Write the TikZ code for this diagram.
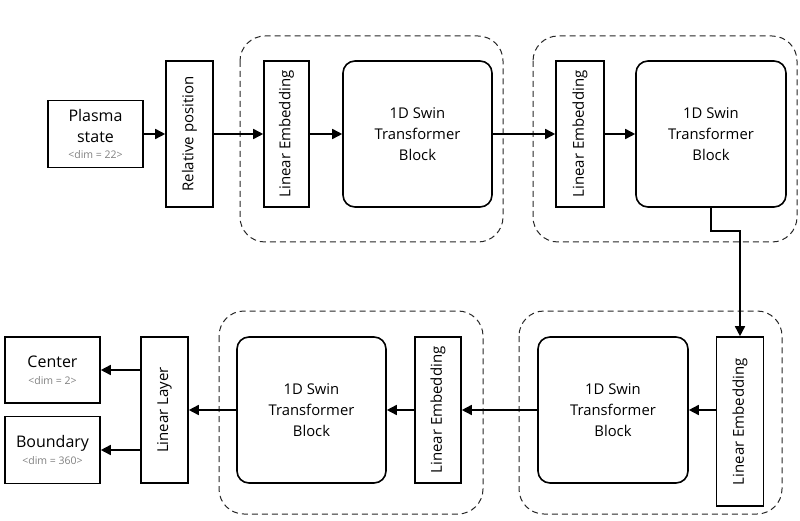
\documentclass[tikz,border=0pt]{standalone}
\usepackage{fontspec}
\setmainfont{Open Sans}
\usetikzlibrary{arrows.meta}

\begin{document}
\begin{tikzpicture}[x=1pt, y=-1pt]
    \tikzstyle{nod}  = [draw, line width=1.6pt, inner sep=0pt, align=center]
    \tikzstyle{bloc} = [nod, rounded corners=12pt, minimum height=146pt, font=\fontsize{14.8}{21}\selectfont]
    \tikzstyle{emb}  = [nod, minimum width=46pt, minimum height=146pt]
    \tikzstyle{ies}  = [nod, minimum width=95pt, font=\fontsize{16}{21}\selectfont]
    \tikzstyle{vert} = [rotate=90, font=\fontsize{15}{16}\selectfont]
    \tikzstyle{tran} = [-{Triangle[length=10pt, width=10pt]}, line width=1.6pt]
    \tikzstyle{grup} = [draw=black!85, dash pattern=on 6pt off 4pt, line width=1pt, rounded corners=25pt]

    \definecolor{gri}{rgb}{0.50,0.50,0.50}
    \newcommand{\dimt}[1]{{\fontsize{10.5}{12}\selectfont\color{gri}<dim = #1>}}

    \useasboundingbox (0,0) rectangle (800,521);

    % Chenarele punctate ale blocurilor
    \foreach \xa/\ya/\xb/\yb in {240/36/503/242, 533/36/797/242, 219/311/483/514, 519/311/782/514}
        \draw[grup] (\xa,\ya) rectangle (\xb,\yb);

    % Randul de sus
    \node[ies, minimum height=67pt] (plasma) at (95.5,134) {Plasma\\state\\[-5pt]\dimt{22}};
    \node[emb, minimum width=47pt, label={[vert]center:Relative position}] (relpos) at (189.5,134) {};
    \node[emb, minimum width=45pt, label={[vert]center:Linear Embedding}] (le1) at (286.5,134) {};
    \node[bloc, minimum width=149pt] (swin1) at (417.5,134) {1D Swin\\Transformer\\Block};
    \node[emb, minimum width=48pt, label={[vert]center:Linear Embedding}] (le2) at (580,134) {};
    \node[bloc, minimum width=150pt] (swin2) at (711,134) {1D Swin\\Transformer\\Block};

    % Randul de jos
    \node[emb, minimum width=47pt, minimum height=169pt, label={[vert]center:Linear Embedding}] (le3) at (740,421.5) {};
    \node[bloc, minimum width=150pt] (swin3) at (613,410) {1D Swin\\Transformer\\Block};
    \node[emb, label={[vert]center:Linear Embedding}] (le4) at (438,410) {};
    \node[bloc, minimum width=149pt] (swin4) at (311.5,410) {1D Swin\\Transformer\\Block};
    \node[emb, minimum width=47pt, label={[vert]center:Linear Layer}] (linl) at (164.5,410) {};
    \node[ies, minimum height=66pt] (center) at (52.5,370) {Center\\[-4pt]\dimt{2}};
    \node[ies, minimum height=67pt] (bound) at (52.5,450) {Boundary\\[-4pt]\dimt{360}};

    % Sagetile
    \draw[tran] (plasma) -- (relpos);
    \draw[tran] (relpos) -- (le1);
    \draw[tran] (le1) -- (swin1);
    \draw[tran] (swin1) -- (le2);
    \draw[tran] (le2) -- (swin2);
    \draw[tran] (swin2.south) -- ++(0,23) -| (le3.north);
    \draw[tran] (le3.west |- swin3) -- (swin3.east);
    \draw[tran] (swin3) -- (le4);
    \draw[tran] (le4) -- (swin4);
    \draw[tran] (swin4) -- (linl);
    \draw[tran] (linl.west |- center) -- (center.east);
    \draw[tran] (linl.west |- bound) -- (bound.east);
\end{tikzpicture}
\end{document}
